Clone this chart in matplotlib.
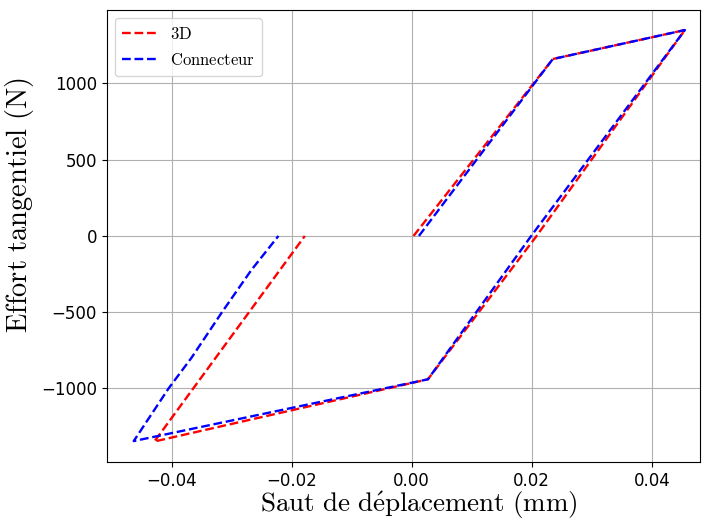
import matplotlib
matplotlib.use("Agg")
import matplotlib.pyplot as plt

plt.rcParams["mathtext.fontset"] = "cm"

# ======== data
x_3d = [0.0003, 0.0235, 0.0455, 0.0208, 0.0027, -0.0429, -0.0423, -0.0178]
y_3d = [0, 1160, 1350, 0, -940, -1348, -1318, 0]

x_conn = [0.0012, 0.0235, 0.0455, 0.0199, 0.0027, -0.0463, -0.0405, -0.0367, -0.0316, -0.0267, -0.0222]
y_conn = [0, 1160, 1350, 0, -940, -1345, -1000, -800, -500, -223, 0]

# ======== plot
fig = plt.figure(figsize=(7.02, 5.22), dpi=100)
ax = fig.add_axes([0.152, 0.115, 0.845, 0.866])

ax.plot(x_3d, y_3d, "r--", lw=1.7, label=r"$\mathrm{3D}$")
ax.plot(x_conn, y_conn, "b--", lw=1.7, label=r"$\mathrm{Connecteur}$")

ax.set_xlim(-0.0508, 0.048)
ax.set_ylim(-1482, 1482)
ax.set_xticks([-0.04, -0.02, 0.0, 0.02, 0.04])
ax.set_yticks([-1000, -500, 0, 500, 1000])
ax.tick_params(labelsize=12)
ax.grid(True)

ax.set_xlabel(r"$\mathrm{Saut\ de\ d\acute{e}placement\ (mm)}$", fontsize=19.5)
ax.set_ylabel(r"$\mathrm{Effort\ tangentiel\ (N)}$", fontsize=20.5)
ax.xaxis.set_label_coords(0.526, -0.060)
ax.yaxis.set_label_coords(-0.12, 0.569)
ax.legend(loc="upper left", fontsize=12, handlelength=2.1)

fig.savefig("out.png", dpi=100)
